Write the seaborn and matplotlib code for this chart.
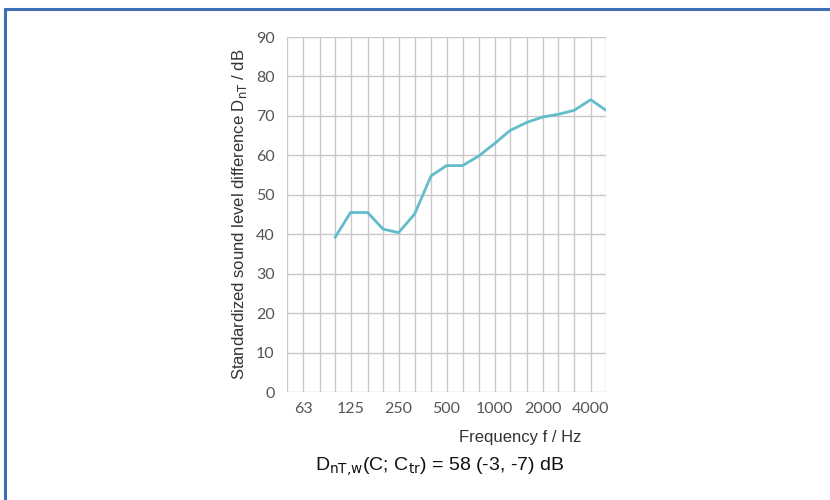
import numpy as np
import pandas as pd
import matplotlib
matplotlib.use("Agg")
import matplotlib.pyplot as plt
import seaborn as sns
from matplotlib.lines import Line2D
from matplotlib.ticker import NullFormatter

# 1/3-octave band centre frequencies (Hz) and measured D_nT values (dB)
bands = [50, 63, 80, 100, 125, 160, 200, 250, 315, 400, 500, 630, 800,
         1000, 1250, 1600, 2000, 2500, 3150, 4000, 5000]
freq = [100, 125, 160, 200, 250, 315, 400, 500, 630, 800, 1000, 1250,
        1600, 2000, 2500, 3150, 4000, 5000]
dnt = [39.2, 45.5, 45.5, 41.3, 40.4, 45.1, 54.8, 57.4, 57.4, 59.9, 63.0,
       66.3, 68.4, 69.7, 70.4, 71.4, 74.1, 71.4]
octave_ticks = [63, 125, 250, 500, 1000, 2000, 4000]
octave_labels = ["63", "125", "250", "500", "1000", "2000", "4000"]
y_ticks = [0, 10, 20, 30, 40, 50, 60, 70, 80, 90]

df = pd.DataFrame({"Frequency": freq, "DnT": dnt})

sns.set_style("white")
plt.rcParams["font.family"] = ["Liberation Sans", "DejaVu Sans"]

fig = plt.figure(figsize=(8.3, 5.0), dpi=100)
ax = fig.add_axes([0.3458, 0.216, 0.3845, 0.71])

sns.lineplot(data=df, x="Frequency", y="DnT", ax=ax, color="#62bccb",
             linewidth=2.0)

ax.set_xscale("log")
ax.set_xlim(bands[0], bands[-1])
ax.set_ylim(0, 90)

# grid at every 1/3-octave band and every 10 dB
ax.set_xticks(bands, minor=True)
ax.xaxis.set_minor_formatter(NullFormatter())
ax.set_xticks(octave_ticks)
ax.set_xticklabels(octave_labels)
ax.set_yticks(y_ticks)
ax.grid(True, which="both", axis="x", color="#c9c9c9", linewidth=1.0)
ax.grid(True, which="major", axis="y", color="#c9c9c9", linewidth=1.0)
ax.set_axisbelow(True)
ax.tick_params(which="both", length=0)
ax.tick_params(axis="x", pad=7)
ax.tick_params(axis="y", pad=9)
for lbl in ax.get_xticklabels() + ax.get_yticklabels():
    lbl.set_family(["Lato", "DejaVu Sans"])
    lbl.set_fontsize(11.5)
    lbl.set_color("#555555")
for s in ax.spines.values():
    s.set_visible(False)

ax.set_xlabel("")
ax.set_ylabel(r"Standardized sound level difference D$_{\mathrm{nT}}$ / dB",
              fontsize=12, color="#333333", labelpad=5)

fig.text(0.701, 0.125, "Frequency f / Hz", ha="right", va="center",
         fontsize=12, color="#333333")
fig.text(0.53, 0.066,
         r"D$_{\mathrm{nT{,}w}}$(C; C$_{\mathrm{tr}}$) = 58 (-3, -7) dB",
         ha="center", va="center", fontsize=14, color="#111111")

# blue frame on top and left
fig.add_artist(Line2D([0.006, 1.0], [0.982, 0.982], transform=fig.transFigure,
                      color="#3d6db4", linewidth=2.2))
fig.add_artist(Line2D([0.006, 0.006], [0.0, 0.982], transform=fig.transFigure,
                      color="#3d6db4", linewidth=2.2))

fig.savefig("out.png", dpi=100)
